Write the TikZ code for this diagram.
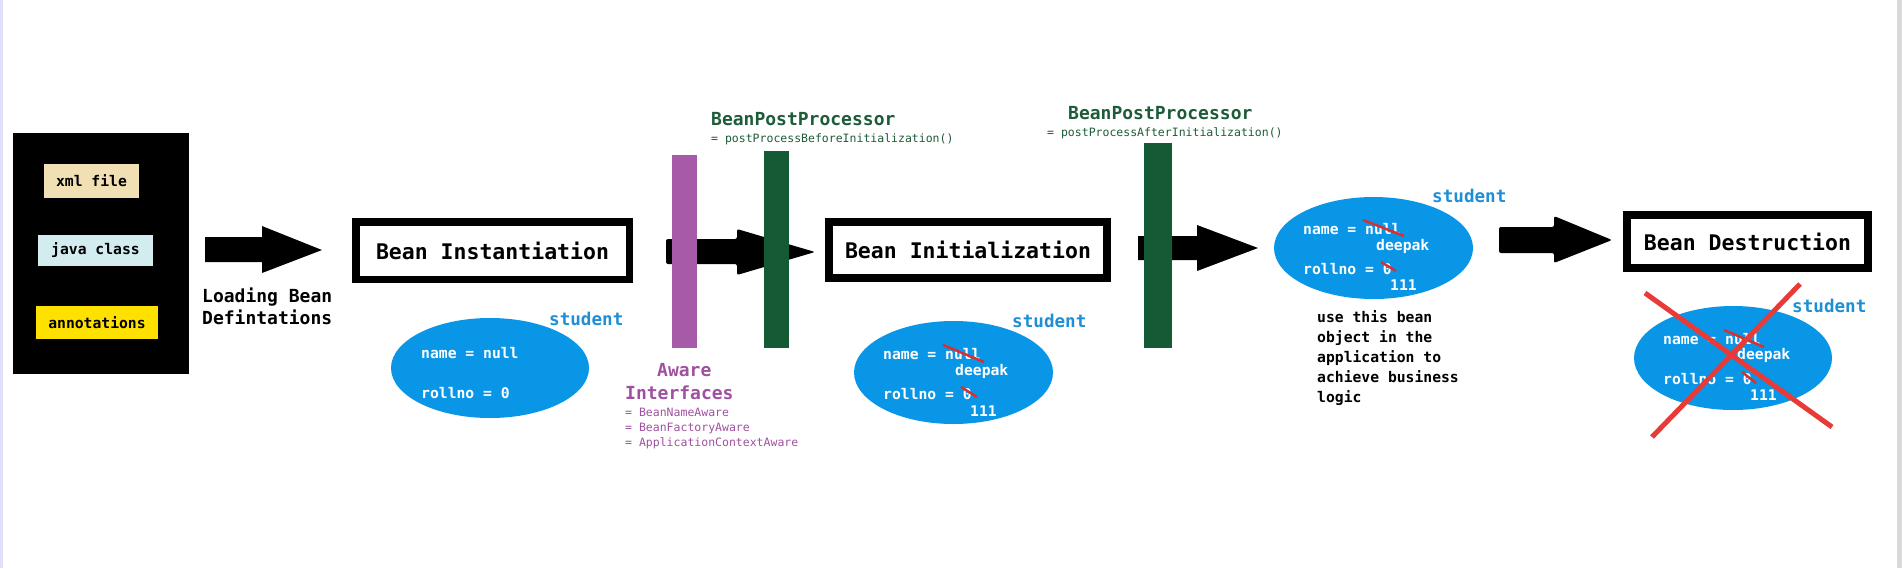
\documentclass[tikz,border=0pt]{standalone}
\usepackage{fontspec}
\setmonofont{DejaVu Sans Mono}
\usetikzlibrary{shapes.geometric}
\newcommand\myfs[1]{\fontsize{#1}{#1}\selectfont}
\definecolor{bluell}{HTML}{0A96E6}
\definecolor{stud}{HTML}{1E8FD6}
\definecolor{purp}{HTML}{A65AA8}
\definecolor{purptxt}{HTML}{A050A0}
\definecolor{grn}{HTML}{145A34}
\definecolor{grntxt}{HTML}{1D5C38}
\definecolor{beige}{HTML}{F0E0B4}
\definecolor{lblue}{HTML}{D2ECF0}
\definecolor{yell}{HTML}{FFE100}
\definecolor{strike}{HTML}{D83030}
\definecolor{xred}{HTML}{E83A36}
\tikzset{
  lbl/.style={inner sep=0pt, anchor=base west, font=\ttfamily\bfseries},
  stagebox/.style={draw=black, line width=8pt, fill=white, inner sep=0pt, font=\ttfamily\bfseries\myfs{21.5}},
  srcbox/.style={inner sep=0pt, font=\ttfamily\bfseries\myfs{14.7}},
  bean/.style={ellipse, fill=bluell, inner sep=0pt},
  bar/.style={inner sep=0pt},
  blk/.style={fill=black},
  stud/.style={lbl, text=stud, font=\ttfamily\bfseries\myfs{17.6}},
  wt/.style={lbl, text=white, font=\ttfamily\bfseries\myfs{14.7}},
  strk/.style={draw=strike, line width=2.5pt},
  xline/.style={draw=xred, line width=5pt},
}
\begin{document}
\begin{tikzpicture}[x=1pt,y=-1pt]
\useasboundingbox (0,0) rectangle (1902,568);
\fill[white] (0,0) rectangle (1902,568);
\fill[black!8!blue!12] (0,0) rectangle (2.5,568);
\fill[black!15] (1897,0) rectangle (1902,568);

% source box
\node[fill=black, minimum width=176, minimum height=241, inner sep=0] (src) at (101,253.5) {};
\node[srcbox, fill=beige, minimum width=95, minimum height=34] (xml) at (91.5,181) {xml file};
\node[srcbox, fill=lblue, minimum width=115, minimum height=31] (java) at (95.5,250.5) {java class};
\node[srcbox, fill=yell, minimum width=122, minimum height=33] (ann) at (97,322.5) {annotations};

% arrow 1
\fill[blk] (205,237) -- (262,237) -- (262,226) -- (322,250) -- (262,273) -- (262,262) -- (205,262) -- cycle;
\node[lbl, font=\ttfamily\bfseries\myfs{18}] (load1) at (202,302.5) {Loading Bean};
\node[lbl, font=\ttfamily\bfseries\myfs{18}] (load2) at (202,324.5) {Defintations};

% stage boxes
\node[stagebox, line width=7.5pt, minimum width=273.5, minimum height=57.5] (inst) at (492.5,250.5) {Bean Instantiation};
\node[stagebox, minimum width=278, minimum height=56] (init) at (968,250) {Bean Initialization};
\node[stagebox, minimum width=241, minimum height=53] (dest) at (1747.5,241.5) {Bean Destruction};

% arrow 2
\fill[blk, rounded corners=2pt] (666,239) -- (737,239) -- (737,229) -- (815,252) -- (737,275) -- (737,264) -- (666,264) -- cycle;
% arrow 3
\fill[blk] (1138,236) -- (1197,236) -- (1197,225) -- (1258,248) -- (1197,271) -- (1197,260) -- (1138,260) -- cycle;
% arrow 4
\fill[blk, rounded corners=2pt] (1499,227) -- (1554,227) -- (1554,216) -- (1612,240) -- (1554,263) -- (1554,253) -- (1499,253) -- cycle;

% bars
\node[bar, fill=purp, minimum width=25, minimum height=193] (aware) at (684.5,251.5) {};
\node[bar, fill=grn, minimum width=25, minimum height=197] (bpp1) at (776.5,249.5) {};
\node[bar, fill=grn, minimum width=28, minimum height=205] (bpp2) at (1158,245.5) {};

% bar labels
\node[lbl, text=grntxt, font=\ttfamily\bfseries\myfs{18}] (bpp1t) at (711,125.5) {BeanPostProcessor};
\node[lbl, text=grntxt, font=\ttfamily\myfs{11.5}] (bpp1s) at (711,142) {= postProcessBeforeInitialization()};
\node[lbl, text=grntxt, font=\ttfamily\bfseries\myfs{18}] (bpp2t) at (1068,119.5) {BeanPostProcessor};
\node[lbl, text=grntxt, font=\ttfamily\myfs{11.5}] (bpp2s) at (1047,136) {= postProcessAfterInitialization()};
\node[lbl, text=purptxt, font=\ttfamily\bfseries\myfs{18}] (aw1) at (657,376.5) {Aware};
\node[lbl, text=purptxt, font=\ttfamily\bfseries\myfs{18}] (aw2) at (625,399.5) {Interfaces};
\node[lbl, text=purptxt, font=\ttfamily\myfs{11.5}] (aw3) at (625,416) {= BeanNameAware};
\node[lbl, text=purptxt, font=\ttfamily\myfs{11.5}] (aw4) at (625,431) {= BeanFactoryAware};
\node[lbl, text=purptxt, font=\ttfamily\myfs{11.5}] (aw5) at (625,446) {= ApplicationContextAware};

% bean 1
\node[bean, minimum width=198, minimum height=100] (b1) at (490,368) {};
\node[stud] (s1) at (549,325) {student};
\node[wt] (b1n) at (421,358) {name = null};
\node[wt] (b1r) at (421,398) {rollno = 0};

% bean 2
\node[bean, minimum width=199, minimum height=103] (b2) at (953.5,372.5) {};
\node[stud] (s2) at (1012,327) {student};
\node[wt] (b2n) at (883,359) {name = null};
\node[wt] (b2d) at (955,375) {deepak};
\node[wt] (b2r) at (883,399) {rollno = 0};
\node[wt] (b2v) at (970,416) {111};
\draw[strk] (943,345) -- (984,362);
\draw[strk] (961,387) -- (977,397);

% bean 3
\node[bean, minimum width=199, minimum height=102] (b3) at (1373.5,248) {};
\node[stud] (s3) at (1432,202) {student};
\node[wt] (b3n) at (1303,234) {name = null};
\node[wt] (b3d) at (1376,250) {deepak};
\node[wt] (b3r) at (1303,274) {rollno = 0};
\node[wt] (b3v) at (1390,290) {111};
\draw[strk] (1363,220) -- (1404,236);
\draw[strk] (1381,262) -- (1396,271);
\node[lbl, font=\ttfamily\bfseries\myfs{14.7}] (u1) at (1317,322) {use this bean};
\node[lbl, font=\ttfamily\bfseries\myfs{14.7}] (u2) at (1317,342) {object in the};
\node[lbl, font=\ttfamily\bfseries\myfs{14.7}] (u3) at (1317,362) {application to};
\node[lbl, font=\ttfamily\bfseries\myfs{14.7}] (u4) at (1317,382) {achieve business};
\node[lbl, font=\ttfamily\bfseries\myfs{14.7}] (u5) at (1317,402) {logic};

% bean 4
\node[bean, minimum width=198, minimum height=104] (b4) at (1733,358) {};
\node[stud] (s4) at (1792,312) {student};
\node[wt] (b4n) at (1663,344) {name = null};
\node[wt] (b4d) at (1737,359) {deepak};
\node[wt] (b4r) at (1663,384) {rollno = 0};
\node[wt] (b4v) at (1750,400) {111};
\draw[strk] (1724,330) -- (1764,347);
\draw[strk] (1742,372) -- (1756,383);
\draw[xline] (1645,293) -- (1832,427);
\draw[xline] (1800,284) -- (1652,437);
\end{tikzpicture}
\end{document}
